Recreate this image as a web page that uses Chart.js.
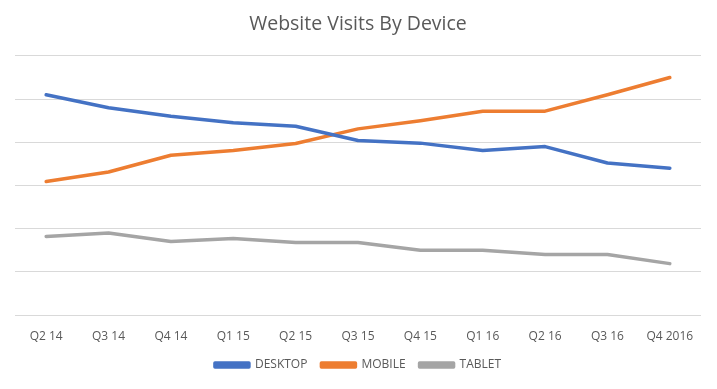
<!DOCTYPE html>
<html>
<head>
<meta charset="utf-8">
<script src="https://cdn.jsdelivr.net/npm/chart.js@4"></script>
<style>
html,body{margin:0;padding:0;background:#fff;}
#wrap{width:717px;height:389px;}
</style>
</head>
<body>
<div id="wrap"><canvas id="c" width="717" height="389"></canvas></div>
<script>
const categories = ["Q2 14","Q3 14","Q4 14","Q1 15","Q2 15","Q3 15","Q4 15","Q1 16","Q2 16","Q3 16","Q4 2016"];
const desktop = [51.0, 48.0, 46.0, 44.5, 43.7, 40.4, 39.8, 38.1, 39.0, 35.2, 34.0];
const mobile  = [30.9, 33.1, 37.0, 38.1, 39.7, 43.1, 45.0, 47.2, 47.2, 51.0, 55.0];
const tablet  = [18.2, 19.0, 17.0, 17.7, 16.8, 16.8, 15.0, 15.0, 14.0, 14.0, 11.9];
const seriesNames = ["DESKTOP","MOBILE","TABLET"];
const colors = ["#4472C4","#ED7D31","#A5A5A5"];
const FONT = "'Open Sans', 'Noto Sans', sans-serif";

const data = {
  labels: categories,
  datasets: [desktop, mobile, tablet].map((d, i) => ({
    label: seriesNames[i],
    data: d,
    borderColor: colors[i],
    backgroundColor: colors[i],
    borderWidth: 3.5,
    pointRadius: 0,
    pointHoverRadius: 0,
    tension: 0,
    borderCapStyle: 'round',
    borderJoinStyle: 'round'
  }))
};

new Chart(document.getElementById('c'), {
  type: 'line',
  data,
  options: {
    responsive: false,
    animation: false,
    devicePixelRatio: 1,
    layout: { padding: { left: 15, right: 16, top: 0, bottom: 8 } },
    plugins: {
      title: {
        display: true,
        text: 'Website Visits By Device',
        color: '#595959',
        font: { family: FONT, size: 19.5, weight: 'normal' },
        padding: { top: 13, bottom: 19.5 }
      },
      legend: {
        position: 'bottom',
        labels: {
          color: '#595959',
          font: { family: FONT, size: 12 },
          boxWidth: 34,
          boxHeight: 4,
          padding: 14
        }
      },
      tooltip: { enabled: false }
    },
    scales: {
      x: {
        offset: true,
        grid: { display: false },
        border: { display: false },
        ticks: { color: '#595959', font: { family: FONT, size: 12 }, padding: 6, maxRotation: 0, autoSkip: false },
        afterFit: (scale) => { scale.height = 30; }
      },
      y: {
        min: 0, max: 60,
        ticks: { display: false, stepSize: 10 },
        grid: { color: '#D9D9D9', lineWidth: 1, drawTicks: false },
        border: { display: false }
      }
    }
  }
});
</script>
</body>
</html>
